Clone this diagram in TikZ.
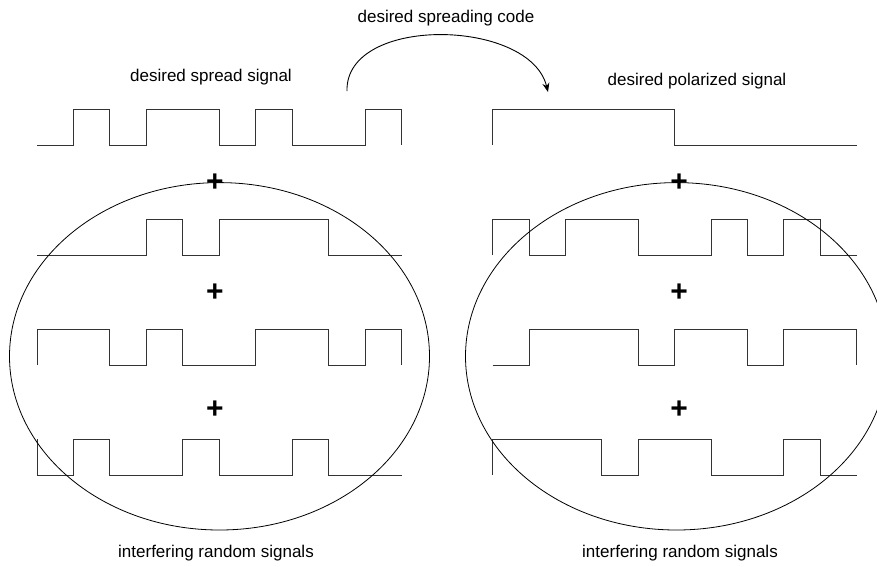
\documentclass[tikz,border=0pt]{standalone}
\usepackage{fontspec}
\setmainfont{Liberation Sans}
\usetikzlibrary{arrows.meta}
\begin{document}
\begin{tikzpicture}[x=1pt, y=-1pt,
  wavepath/.style={line width=1pt, draw=black!80, line join=miter},
  ringpath/.style={line width=0.8pt, draw=black},
  lbl/.style={font=\fontsize{17}{19}\selectfont, inner sep=0pt, anchor=base},
  plussign/.style={font=\fontsize{30}{30}\selectfont\bfseries, inner sep=0pt}]
\useasboundingbox (0,0) rectangle (877,566);
\fill[white] (0,0) rectangle (877,566);
\clip (0,0) rectangle (877,566);

% captions
\node[lbl] (spreadlbl) at (211,81) {desired spread signal};
\node[lbl] (codelbl)   at (446,22) {desired spreading code};
\node[lbl] (polarlbl)  at (697,85) {desired polarized signal};
\node[lbl] (noiseL)    at (216,557) {interfering random signals};
\node[lbl] (noiseR)    at (680,557) {interfering random signals};

% spreading code arrow
\coordinate (arcstart) at (347,91);
\coordinate (arcend)   at (548,92);
\draw[line width=0.9pt, -{Stealth[length=9pt,width=7pt]}]
  (arcstart) .. controls (345,15) and (530,18) .. (arcend);

% left column: chip-indexed waveforms
\begin{scope}[xshift=37pt, x=36.47pt]
  \draw[wavepath] (0,145) -- (1,145) -- (1,109) -- (2,109) -- (2,145) -- (3,145) -- (3,109) -- (5,109) -- (5,145) -- (6,145) -- (6,109) -- (7,109) -- (7,145) -- (9,145) -- (9,109) -- (10,109) -- (10,145);
  \draw[wavepath] (0,255) -- (3,255) -- (3,219) -- (4,219) -- (4,255) -- (5,255) -- (5,219) -- (8,219) -- (8,255) -- (10,255);
  \draw[wavepath] (0,365) -- (0,329) -- (2,329) -- (2,365) -- (3,365) -- (3,329) -- (4,329) -- (4,365) -- (6,365) -- (6,329) -- (8,329) -- (8,365) -- (9,365) -- (9,329) -- (10,329) -- (10,365);
  \draw[wavepath] (0,439) -- (0,475) -- (1,475) -- (1,439) -- (2,439) -- (2,475) -- (4,475) -- (4,439) -- (5,439) -- (5,475) -- (7,475) -- (7,439) -- (8,439) -- (8,475) -- (10,475);
\end{scope}

% right column: chip-indexed waveforms
\begin{scope}[xshift=492.7pt, x=36.4pt]
  \draw[wavepath] (0,145) -- (0,109) -- (5,109) -- (5,145) -- (10,145);
  \draw[wavepath] (0,255) -- (0,219) -- (1,219) -- (1,255) -- (2,255) -- (2,219) -- (4,219) -- (4,255) -- (6,255) -- (6,219) -- (7,219) -- (7,255) -- (8,255) -- (8,219) -- (9,219) -- (9,255) -- (10,255);
  \draw[wavepath] (0,365) -- (1,365) -- (1,329) -- (4,329) -- (4,365) -- (5,365) -- (5,329) -- (7,329) -- (7,365) -- (8,365) -- (8,329) -- (10,329) -- (10,365);
  \draw[wavepath] (0,475) -- (0,439) -- (3,439) -- (3,475) -- (4,475) -- (4,439) -- (6,439) -- (6,475) -- (8,475) -- (8,439) -- (9,439) -- (9,475) -- (10,475);
\end{scope}

% grouping ellipses around the interfering signals
\draw[ringpath] (219.5,356.3) ellipse [x radius=210, y radius=173.7];
\draw[ringpath] (676.5,356.3) ellipse [x radius=211, y radius=173.7];

% summation signs
\node[plussign] (pL1) at (215,183) {+};
\node[plussign] (pL2) at (215,293) {+};
\node[plussign] (pL3) at (215,410) {+};
\node[plussign] (pR1) at (679,183) {+};
\node[plussign] (pR2) at (679,293) {+};
\node[plussign] (pR3) at (679,410) {+};
\end{tikzpicture}
\end{document}
